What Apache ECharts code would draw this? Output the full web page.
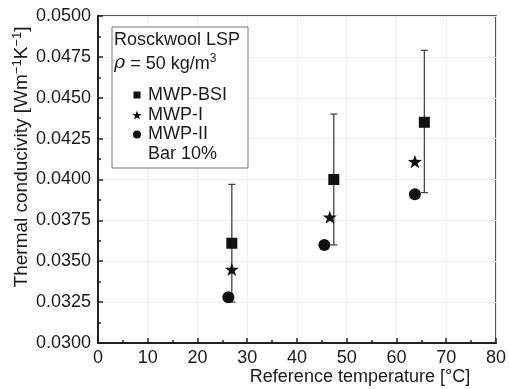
<!DOCTYPE html>
<html><head><meta charset="utf-8">
<script src="https://cdn.jsdelivr.net/npm/echarts@6/dist/echarts.min.js"></script>
<style>html,body{margin:0;padding:0;background:#fff}#c{width:509px;height:389px}</style>
</head><body><div id="c"></div>
<script>
// ---- data ----
const bsiX = [26.9, 47.4, 65.6];
const bsiY = [0.0361, 0.0400, 0.0435];
const mwp1X = [26.9, 46.6, 63.7];
const mwp1Y = [0.0345, 0.0377, 0.0411];
const mwp2X = [26.2, 45.5, 63.7];
const mwp2Y = [0.0328, 0.0360, 0.0391];
const barLow = [0.0325, 0.0360, 0.0392];
const barHigh = [0.0397, 0.0440, 0.0479];
const xTicks = {min: 0, max: 80, interval: 10};
const yTicks = {min: 0.03, max: 0.05, interval: 0.0025};

const FONT = 'Liberation Sans, Arial, Helvetica, sans-serif';
const TXT = '#1a1a1a';
const starPath = 'path://M0,-10L2.35,-3.24L9.51,-3.09L3.80,1.24L5.88,8.09L0,4L-5.88,8.09L-3.80,1.24L-9.51,-3.09L-2.35,-3.24Z';

function starPoints(cx, cy, R) {
  const pts = [];
  for (let k = 0; k < 10; k++) {
    const r = k % 2 === 0 ? R : R * 0.4;
    const a = (-90 + k * 36) * Math.PI / 180;
    pts.push([cx + r * Math.cos(a), cy + r * Math.sin(a)]);
  }
  return pts;
}

const zip = (a, b) => a.map((v, i) => [v, b[i]]);
const errData = bsiX.map((x, i) => [x, barLow[i], barHigh[i]]);

function richSup(size, sup) {
  const lh = size + 2;
  return {
    n: {fontSize: size, fontFamily: FONT, fill: TXT, color: TXT, lineHeight: lh, verticalAlign: 'bottom'},
    s: {fontSize: sup, fontFamily: FONT, fill: TXT, color: TXT, lineHeight: lh, verticalAlign: 'top'},
    i: {fontSize: size + 1, fontStyle: 'italic', fontFamily: 'DejaVu Serif, serif', fill: TXT, color: TXT, lineHeight: lh, verticalAlign: 'bottom'}
  };
}

const chart = echarts.init(document.getElementById('c'), null, {renderer: 'canvas'});
chart.setOption({
  animation: false,
  backgroundColor: '#fff',
  grid: {left: 98, right: 9, top: 16, bottom: 46, show: true, borderColor: '#222', borderWidth: 1.5, backgroundColor: 'transparent'},
  xAxis: {
    type: 'value', min: xTicks.min, max: xTicks.max, interval: xTicks.interval,
    axisLine: {show: true, onZero: false, lineStyle: {color: '#222', width: 2}},
    axisTick: {show: true, inside: true, length: 5, lineStyle: {color: '#222', width: 1.5}},
    minorTick: {show: true, splitNumber: 2, length: 3, lineStyle: {color: '#222', width: 1.5}},
    axisLabel: {color: TXT, fontSize: 18, fontFamily: FONT, margin: 6},
    splitLine: {show: true, lineStyle: {color: '#efefef', width: 1}}
  },
  yAxis: {
    type: 'value', min: yTicks.min, max: yTicks.max, interval: yTicks.interval,
    axisLine: {show: true, onZero: false, lineStyle: {color: '#222', width: 2}},
    axisTick: {show: true, inside: true, length: 5, lineStyle: {color: '#222', width: 1.5}},
    minorTick: {show: true, splitNumber: 2, length: 3, lineStyle: {color: '#222', width: 1.5}},
    axisLabel: {color: TXT, fontSize: 18, fontFamily: FONT, margin: 7, formatter: v => v.toFixed(4)},
    splitLine: {show: true, lineStyle: {color: '#efefef', width: 1}}
  },
  graphic: [
    {type: 'text', x: 21, y: 157, rotation: Math.PI / 2,
     style: {rich: richSup(19, 13), text: '{n|Thermal conducivity [Wm}{s|\u22121}{n|K}{s|\u22121}{n|]}', align: 'center', verticalAlign: 'middle'}},
    {type: 'text', x: 360, y: 377,
     style: {text: 'Reference temperature [\u00B0C]', fill: TXT, font: '18px ' + FONT, align: 'center', verticalAlign: 'middle'}},
    {type: 'rect', shape: {x: 112, y: 27, width: 136, height: 141}, style: {fill: '#fff', stroke: '#777', lineWidth: 1}, z: 10},
    {type: 'text', x: 114, y: 40, z: 11, style: {text: 'Rosckwool LSP', fill: TXT, font: '18px ' + FONT, verticalAlign: 'middle'}},
    {type: 'text', x: 114, y: 63, z: 11, style: {rich: richSup(18, 12), text: '{i|\u03C1}{n| = 50 kg/m}{s|3}', verticalAlign: 'middle'}},
    {type: 'rect', shape: {x: 133.5, y: 91.5, width: 7, height: 7}, style: {fill: '#111'}, z: 11},
    {type: 'polygon', shape: {points: starPoints(137, 115.5, 5)}, style: {fill: '#111'}, z: 11},
    {type: 'circle', shape: {cx: 137, cy: 134.5, r: 4}, style: {fill: '#111'}, z: 11},
    {type: 'text', x: 148, y: 95, z: 11, style: {text: 'MWP-BSI', fill: TXT, font: '18px ' + FONT, verticalAlign: 'middle'}},
    {type: 'text', x: 148, y: 115, z: 11, style: {text: 'MWP-I', fill: TXT, font: '18px ' + FONT, verticalAlign: 'middle'}},
    {type: 'text', x: 148, y: 134, z: 11, style: {text: 'MWP-II', fill: TXT, font: '18px ' + FONT, verticalAlign: 'middle'}},
    {type: 'text', x: 148, y: 154, z: 11, style: {text: 'Bar 10%', fill: TXT, font: '18px ' + FONT, verticalAlign: 'middle'}}
  ],
  series: [
    {
      type: 'custom', name: 'Bar 10%', data: errData, z: 2,
      renderItem: (params, api) => {
        const x = api.value(0);
        const pHi = api.coord([x, api.value(2)]);
        const pLo = api.coord([x, api.value(1)]);
        const w = 3.5;
        const ls = {stroke: '#444', lineWidth: 1.3};
        return {type: 'group', children: [
          {type: 'line', shape: {x1: pHi[0], y1: pHi[1], x2: pLo[0], y2: pLo[1]}, style: ls},
          {type: 'line', shape: {x1: pHi[0] - w, y1: pHi[1], x2: pHi[0] + w, y2: pHi[1]}, style: ls},
          {type: 'line', shape: {x1: pLo[0] - w, y1: pLo[1], x2: pLo[0] + w, y2: pLo[1]}, style: ls}
        ]};
      }
    },
    {type: 'scatter', name: 'MWP-BSI', data: zip(bsiX, bsiY), symbol: 'rect', symbolSize: 11, itemStyle: {color: '#111', opacity: 1}, z: 3},
    {type: 'scatter', name: 'MWP-I', data: zip(mwp1X, mwp1Y), symbol: starPath, symbolKeepAspect: true, symbolSize: 14, itemStyle: {color: '#111', opacity: 1}, z: 3},
    {type: 'scatter', name: 'MWP-II', data: zip(mwp2X, mwp2Y), symbol: 'circle', symbolSize: 12, itemStyle: {color: '#111', opacity: 1}, z: 3}
  ]
});
</script></body></html>
